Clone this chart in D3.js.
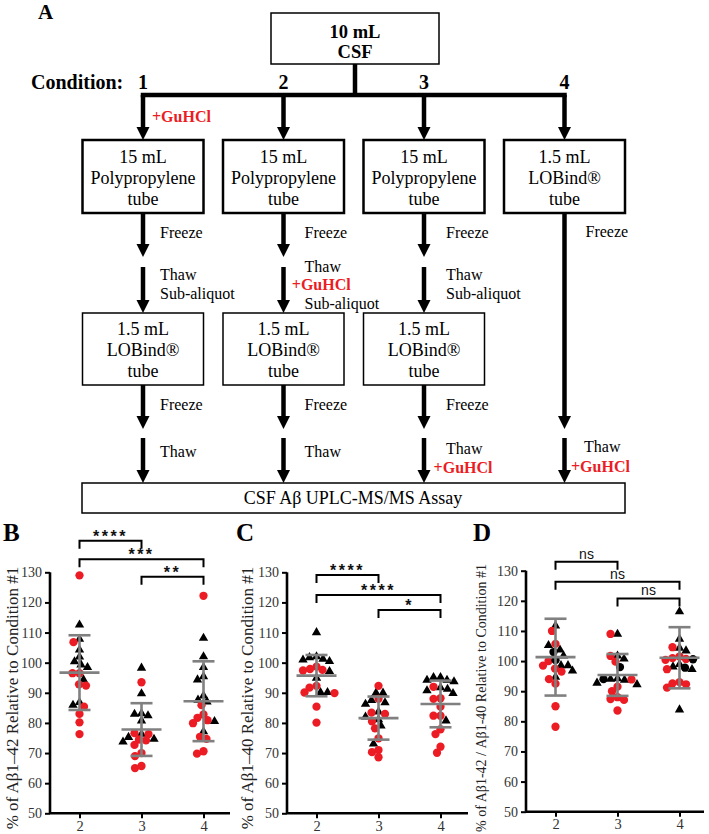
<!DOCTYPE html>
<html><head><meta charset="utf-8">
<script src="https://cdn.jsdelivr.net/npm/d3@7"></script>
<style>body{margin:0;background:#fff}svg{display:block}</style>
</head><body>
<svg id="fig" width="709" height="834"></svg>
<script>
// ---------------- DATA ----------------
const conditions = ["2", "3", "4"];
const yTicks = [50, 60, 70, 80, 90, 100, 110, 120, 130];

// Panel B: % of Abeta1-42 relative to condition #1
const b42Triangles = [
  [112.8, 108.1, 104.5, 102.2, 100.6, 99.6, 98.7, 94.6, 87.1, 86.2],
  [98.5, 90.0, 83.4, 83.2, 82.7, 81.0, 76.6, 75.5, 74.9, 74.0],
  [108.4, 102.3, 98.7, 95.7, 94.6, 89.3, 87.9, 87.3, 80.8, 77.4]
];
const b42Circles = [
  [129.0, 106.8, 96.5, 96.5, 92.8, 92.4, 85.4, 83.0, 80.2, 76.3],
  [93.5, 76.6, 76.3, 74.5, 74.2, 72.7, 70.0, 69.0, 65.7, 65.0],
  [122.2, 85.9, 82.8, 81.7, 80.9, 79.9, 75.4, 74.7, 70.6, 69.8]
];
const b42Mean = [96.7, 77.8, 87.2];
const b42SD = [12.4, 8.75, 13.25];
const b42Sig = [["2", "3", "****", 140.5], ["2", "4", "***", 134.3], ["3", "4", "**", 128.5]];

// Panel C: % of Abeta1-40 relative to condition #1
const c40Triangles = [
  [110.3, 102.3, 102.0, 101.5, 101.2, 100.7, 97.4, 95.2, 90.4, 90.4],
  [90.2, 90.2, 87.8, 87.0, 86.5, 84.0, 82.3, 81.4, 79.3, 73.3],
  [95.4, 95.4, 94.5, 94.5, 94.0, 92.0, 91.5, 91.0, 90.1, 81.0]
];
const c40Circles = [
  [98.7, 97.9, 97.6, 97.4, 92.3, 91.7, 90.1, 89.9, 85.4, 80.1],
  [92.3, 88.0, 83.4, 83.0, 80.5, 78.2, 74.9, 71.0, 70.3, 68.6],
  [92.0, 88.2, 88.0, 85.4, 82.4, 82.4, 77.9, 76.3, 72.1, 70.1]
];
const c40Mean = [95.7, 81.6, 86.3];
const c40SD = [6.85, 7.15, 7.75];
const c40Sig = [["2", "3", "****", 129.1], ["2", "4", "****", 122.5], ["3", "4", "*", 117.5]];

// Panel D: % of Abeta1-42 / Abeta1-40 relative to condition #1
const dRatioTriangles = [
  [112.0, 105.5, 104.0, 102.0, 98.8, 98.8, 97.0, 95.0],
  [109.2, 102.0, 101.0, 94.5, 94.3, 94.0, 93.0, 92.5],
  [116.7, 107.6, 104.6, 103.7, 99.2, 98.4, 97.5, 84.1]
];
const dRatioCircles = [
  [110.0, 105.7, 100.0, 98.5, 97.5, 96.5, 94.0, 92.5, 85.0, 78.2],
  [109.0, 101.7, 99.8, 93.9, 91.5, 90.0, 88.0, 87.4, 87.1, 83.6],
  [104.6, 101.5, 101.0, 100.7, 100.4, 97.3, 93.0, 92.6, 92.3, 91.2]
];
const dRatioBlack = [
  [103.0, 100.3],
  [98.0, 94.0],
  [100.6, 97.8]
];
const dRatioMean = [101.3, 95.4, 101.1];
const dRatioSD = [12.75, 6.95, 10.15];
const dRatioSig = [["2", "3", "ns", 133.0], ["2", "4", "ns", 126.3], ["3", "4", "ns", 120.8]];

// Flowchart texts
const flowConditions = ["1", "2", "3", "4"];
const firstTubes = [
  ["15 mL", "Polypropylene", "tube"],
  ["15 mL", "Polypropylene", "tube"],
  ["15 mL", "Polypropylene", "tube"],
  ["1.5 mL", "LOBind®", "tube"]
];
const secondTubes = [
  ["1.5 mL", "LOBind®", "tube"],
  ["1.5 mL", "LOBind®", "tube"],
  ["1.5 mL", "LOBind®", "tube"]
];

// ---------------- STYLE / LAYOUT ----------------
const SERIF = "'Liberation Serif','Times New Roman',serif";
const SANS = "'Liberation Sans',Arial,sans-serif";
const RED = "#ec1c24";
const svg = d3.select("#fig");

function label(g, x, yc, s, size, o = {}) {
  return g.append("text")
    .attr("x", x).attr("y", yc + size * 0.33)
    .attr("text-anchor", o.anchor || "start")
    .attr("font-family", o.family || SERIF)
    .attr("font-size", size)
    .attr("font-weight", o.bold ? "bold" : "normal")
    .attr("fill", o.color || "#000")
    .text(s);
}
function arrow(g, x, y1, tip) {
  const hh = 13, hw = 6.5;
  g.append("line").attr("x1", x).attr("x2", x).attr("y1", y1).attr("y2", tip - hh + 1)
    .attr("stroke", "#000").attr("stroke-width", 4.5);
  g.append("path").attr("d", `M${x - hw},${tip - hh}L${x + hw},${tip - hh}L${x},${tip}Z`).attr("fill", "#000");
}
function box(g, x, y, w, h, sw) {
  g.append("rect").attr("x", x).attr("y", y).attr("width", w).attr("height", h)
    .attr("fill", "#fff").attr("stroke", "#000").attr("stroke-width", sw);
}

// ---------------- PANEL A: flowchart ----------------
const A = svg.append("g");
A.append("text").attr("x", 38).attr("y", 19).attr("font-family", SERIF).attr("font-size", 21)
  .attr("font-weight", "bold").text("A");
const cols = [143, 283.5, 424, 564.5];
const labOff = [17, 21, 22, 21];
const redOff = [9, 8.3, 9.6, 6.5];

box(A, 271, 13, 168, 51, 1.5);
label(A, 355, 31.5, "10 mL", 18.5, { bold: true, anchor: "middle" });
label(A, 355, 51.5, "CSF", 18.5, { bold: true, anchor: "middle" });
A.append("line").attr("x1", 355).attr("x2", 355).attr("y1", 64).attr("y2", 95)
  .attr("stroke", "#000").attr("stroke-width", 4.5);
A.append("line").attr("x1", cols[0] - 2.25).attr("x2", cols[3] + 2.25).attr("y1", 95).attr("y2", 95)
  .attr("stroke", "#000").attr("stroke-width", 4.5);
label(A, 31, 82, "Condition:", 20, { bold: true });
flowConditions.forEach((c, i) => label(A, cols[i], 82, c, 20, { bold: true, anchor: "middle" }));

firstTubes.forEach((lines, i) => {
  const x = cols[i];
  arrow(A, x, 95, 140);
  box(A, x - 60.5, 140, 121, 73, 2.5);
  lines.forEach((t, k) => label(A, x, 157.5 + k * 21, t, 18, { anchor: "middle" }));
});
label(A, cols[0] + redOff[0], 117, "+GuHCl", 16, { bold: true, color: RED });

secondTubes.forEach((lines, i) => {
  const x = cols[i];
  arrow(A, x, 213, 257);
  label(A, x + labOff[i], 233, "Freeze", 16);
  arrow(A, x, 267, 313);
  box(A, x - 60.5, 313, 121, 72, 1.5);
  lines.forEach((t, k) => label(A, x, 329.5 + k * 21, t, 18, { anchor: "middle" }));
  arrow(A, x, 385, 429);
  label(A, x + labOff[i], 405, "Freeze", 16);
  arrow(A, x, 438, 483);
});
// thaw / sub-aliquot labels
label(A, cols[0] + labOff[0], 275, "Thaw", 16);
label(A, cols[0] + labOff[0], 294, "Sub-aliquot", 16);
label(A, cols[1] + labOff[1], 267, "Thaw", 16);
label(A, cols[1] + redOff[1], 285, "+GuHCl", 16, { bold: true, color: RED });
label(A, cols[1] + labOff[1], 304, "Sub-aliquot", 16);
label(A, cols[2] + labOff[2], 275, "Thaw", 16);
label(A, cols[2] + labOff[2], 294, "Sub-aliquot", 16);
label(A, cols[0] + labOff[0], 452, "Thaw", 16);
label(A, cols[1] + labOff[1], 452, "Thaw", 16);
label(A, cols[2] + labOff[2], 449, "Thaw", 16);
label(A, cols[2] + redOff[2], 468, "+GuHCl", 16, { bold: true, color: RED });
// condition 4 long path
arrow(A, cols[3], 213, 429);
label(A, cols[3] + labOff[3], 232, "Freeze", 16);
arrow(A, cols[3], 438, 483);
label(A, cols[3] + 19.5, 447, "Thaw", 16);
label(A, cols[3] + redOff[3], 467, "+GuHCl", 16, { bold: true, color: RED });
// assay box
box(A, 82, 483, 543, 30, 1.5);
label(A, 353, 498.5, "CSF Aβ UPLC-MS/MS Assay", 18, { anchor: "middle" });

// ---------------- PANELS B, C, D ----------------
const panels = [
  { letter: "B", lx: 3, x0: 50, x1: 230, yT: 572.3, yB: 813.3, title: "% of Aβ1–42 Relative to Condition #1",
    tx: 18, ts: 17, tri: b42Triangles, red: b42Circles, blk: null, mean: b42Mean, sd: b42SD, sig: b42Sig },
  { letter: "C", lx: 236, x0: 287, x1: 468, yT: 572.3, yB: 813.3, title: "% of Aβ1–40 Relative to Condition #1",
    tx: 253, ts: 17, tri: c40Triangles, red: c40Circles, blk: null, mean: c40Mean, sd: c40SD, sig: c40Sig },
  { letter: "D", lx: 473, x0: 526, x1: 704, yT: 570.7, yB: 811.7, title: "% of Aβ1-42 / Aβ1-40 Relative to Condition #1",
    tx: 486, ts: 14, tri: dRatioTriangles, red: dRatioCircles, blk: dRatioBlack, mean: dRatioMean, sd: dRatioSD, sig: dRatioSig }
];

function swarm(items, cx, D) {
  const order = items.slice().sort((a, b) => a.py - b.py);
  const placed = [];
  order.forEach(p => {
    let off = 0;
    for (let k = 0; k < 400; k++) {
      const o = k === 0 ? 0 : (k % 2 ? -1 : 1) * Math.ceil(k / 2) * 0.5;
      if (placed.every(q => (q.dx - o) ** 2 + (q.py - p.py) ** 2 >= D * D)) { off = o; break; }
    }
    p.dx = off; placed.push(p);
  });
  items.forEach(p => p.px = cx + p.dx);
  return items;
}

const triSym = d3.symbol(d3.symbolTriangle, 38)();
const cirSym = d3.symbol(d3.symbolCircle, 54)();

panels.forEach(P => {
  const g = svg.append("g");
  const y = d3.scaleLinear().domain([50, 130]).range([P.yB, P.yT]);
  const x = d3.scalePoint().domain(conditions).range([P.x0 + 29.5, P.x0 + 29.5 + 124]);

  g.append("text").attr("x", P.lx).attr("y", 541).attr("font-family", SERIF).attr("font-size", 25)
    .attr("font-weight", "bold").text(P.letter);

  // y axis
  const ya = g.append("g").attr("transform", `translate(${P.x0},0)`)
    .call(d3.axisLeft(y).tickValues(yTicks).tickSize(5).tickPadding(3).tickFormat(d3.format("d")));
  ya.select(".domain").attr("stroke", "#000").attr("stroke-width", 2.6).attr("d", `M0,${y(130)}V${y(50)}`);
  ya.selectAll(".tick line").attr("stroke", "#000").attr("stroke-width", 2);
  ya.selectAll(".tick text").attr("font-family", SERIF).attr("font-size", 14).attr("fill", "#333");

  // x axis
  const xa = g.append("g").attr("transform", `translate(0,${P.yB})`)
    .call(d3.axisBottom(x).tickSize(5).tickPadding(2));
  xa.select(".domain").attr("stroke", "#000").attr("stroke-width", 2.6).attr("d", `M${P.x0},0H${P.x1}`);
  xa.selectAll(".tick line").attr("stroke", "#000").attr("stroke-width", 2);
  xa.selectAll(".tick text").attr("font-family", SERIF).attr("font-size", 14.5).attr("fill", "#333");

  // y title
  g.append("text").attr("transform", `translate(${P.tx},698) rotate(-90)`)
    .attr("text-anchor", "middle").attr("font-family", SERIF).attr("font-size", P.ts).attr("fill", "#222")
    .text(P.title);

  // points
  conditions.forEach((c, i) => {
    let items = [];
    P.tri[i].forEach(v => items.push({ v, t: "tri", py: y(v) }));
    P.red[i].forEach(v => items.push({ v, t: "red", py: y(v) }));
    if (P.blk) P.blk[i].forEach(v => items.push({ v, t: "blk", py: y(v) }));
    swarm(items, x(c), 6.8);
    g.selectAll(null).data(items).join("path")
      .attr("d", d => d.t === "tri" ? triSym : cirSym)
      .attr("transform", d => `translate(${d.px},${d.py + (d.t === "tri" ? 0.8 : 0)})`)
      .attr("fill", d => d.t === "red" ? RED : "#000");

    // mean +- SD
    const cx = x(c), m = P.mean[i], s = P.sd[i];
    const eb = g.append("g").attr("stroke", "#808080").attr("stroke-width", 2.6);
    eb.append("line").attr("x1", cx).attr("x2", cx).attr("y1", y(m - s)).attr("y2", y(m + s));
    eb.append("line").attr("x1", cx - 20).attr("x2", cx + 20).attr("y1", y(m)).attr("y2", y(m));
    eb.append("line").attr("x1", cx - 11).attr("x2", cx + 11).attr("y1", y(m + s)).attr("y2", y(m + s));
    eb.append("line").attr("x1", cx - 11).attr("x2", cx + 11).attr("y1", y(m - s)).attr("y2", y(m - s));
  });

  // significance brackets
  P.sig.forEach(([a, b, t, lev]) => {
    const x1 = x(a), x2 = x(b), yy = y(lev);
    g.append("path").attr("d", `M${x1},${yy + 8}V${yy}H${x2}V${yy + 8}`)
      .attr("fill", "none").attr("stroke", "#000").attr("stroke-width", 2);
    const isNs = t === "ns";
    g.append("text").attr("x", (x1 + x2) / 2).attr("y", isNs ? yy - 3 : yy + 1)
      .attr("text-anchor", "middle").attr("font-family", SANS)
      .attr("font-size", isNs ? 14 : 16).attr("font-weight", isNs ? "normal" : "bold")
      .attr("letter-spacing", isNs ? 0 : 2.5).attr("fill", "#111")
      .text(t);
  });
});
</script>
</body></html>
